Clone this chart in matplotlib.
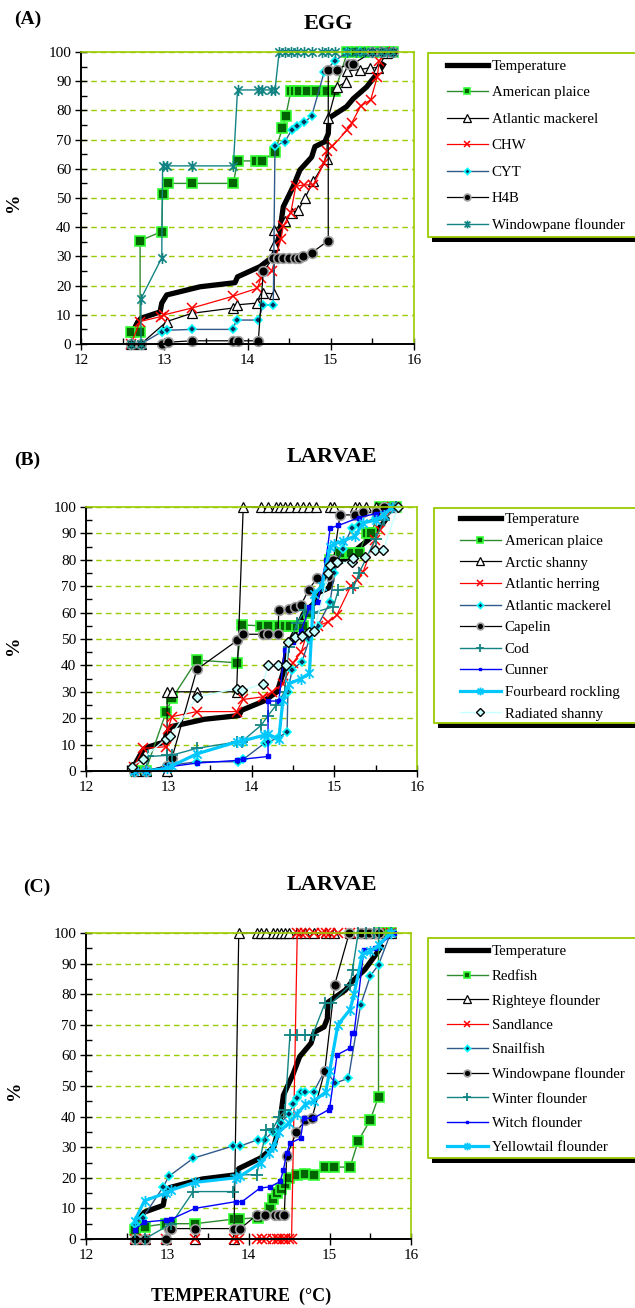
import numpy as np
import matplotlib.pyplot as plt
from matplotlib.patches import Rectangle
from matplotlib.path import Path

plt.rcParams['font.family'] = ['Liberation Serif', 'DejaVu Serif']

# ---- temperature curve (cumulative %), same in the three panels
temp_t = [12.6, 12.68, 12.72, 12.95, 12.97, 13.03, 13.43, 13.85, 13.88, 14.15, 14.31, 14.38, 14.43, 14.55, 14.63,
          14.77, 14.81, 14.93, 14.97, 14.98, 15.19, 15.27, 15.43, 15.59, 15.63]
temp_p = [3, 7.5, 8.8, 11, 14, 16.8, 19.6, 21, 23, 26.5, 30, 37, 47, 54, 59.6,
          64, 67.6, 69.3, 72, 77.4, 81.3, 84, 88, 93.8, 95.6]

# ---- (A) EGG
a_plaice_t = [12.6, 12.71, 12.71, 12.97, 12.98, 13.04, 13.33, 13.83, 13.88, 14.1, 14.18, 14.33, 14.42, 14.46,
              14.52, 14.57, 14.62, 14.72, 14.82, 14.95, 15.05, 15.2, 15.3, 15.4, 15.5, 15.6, 15.7, 15.75]
a_plaice_p = [4, 4, 35.4, 38.5, 51.4, 55, 55, 55, 62.7, 62.7, 62.7, 65.9, 73.9, 78.1,
              86.5, 86.5, 86.5, 86.5, 86.5, 86.5, 86.5, 100, 100, 100, 100, 100, 100, 100]
a_mack_t = [12.6, 12.72, 13.03, 13.33, 13.82, 13.87, 14.11, 14.19, 14.32, 14.32, 14.32, 14.45, 14.53, 14.61, 14.69,
            14.79, 14.95, 14.97, 15.07, 15.18, 15.2, 15.35, 15.47, 15.57, 15.67]
a_mack_p = [0, 0, 7.7, 10.5, 12.3, 13.4, 14, 17.4, 17.2, 33.9, 39, 42, 44.9, 45.8, 50,
            55.7, 63.2, 77.4, 88, 89.6, 93.5, 94, 94.6, 94.6, 99.7]
a_chw_t = [12.6, 12.71, 12.96, 13.0, 13.33, 13.82, 14.12, 14.16, 14.29, 14.4, 14.43, 14.52, 14.58, 14.68, 14.79,
           14.92, 14.95, 15.02, 15.2, 15.25, 15.36, 15.48, 15.56, 15.58, 15.65]
a_chw_p = [0, 7.7, 9.4, 10, 12.3, 16.3, 19.1, 22.6, 24.9, 35.8, 40.4, 45, 54, 54.5, 54.5,
           62, 66, 67.7, 73.4, 75.6, 81.5, 83.6, 91.6, 96.8, 100]
a_cyt_t = [12.6, 12.72, 12.97, 13.03, 13.33, 13.82, 13.87, 14.13, 14.19, 14.31, 14.33, 14.45, 14.53, 14.6, 14.68,
           14.77, 14.92, 15.05, 15.2, 15.35, 15.5, 15.62, 15.75]
a_cyt_p = [0, 0, 4.2, 4.7, 5, 5, 8.2, 8.2, 13.4, 13.4, 67.8, 69.3, 73.3, 74.7, 75.9,
           78, 93, 97, 100, 100, 100, 100, 100]
a_h4b_t = [12.6, 12.72, 12.97, 13.04, 13.33, 13.82, 13.88, 14.13, 14.19, 14.31, 14.37, 14.43, 14.5, 14.57, 14.62,
           14.67, 14.77, 14.97, 14.97, 15.07, 15.22, 15.27, 15.5, 15.62, 15.75]
a_h4b_p = [0, 0, 0, 0.6, 1.1, 1.1, 1.1, 1.1, 24.9, 29.5, 29.5, 29.5, 29.5, 29.5, 29.5,
           30, 31.2, 35.4, 93.8, 94, 96, 96, 100, 100, 100]
a_wf_t = [12.6, 12.72, 12.72, 12.97, 12.98, 13.03, 13.33, 13.83, 13.88, 14.13, 14.18, 14.28, 14.33, 14.38, 14.45,
          14.52, 14.6, 14.68, 14.78, 14.9, 14.97, 15.05, 15.2, 15.3, 15.4, 15.5, 15.6, 15.68, 15.75]
a_wf_p = [0, 0, 15.5, 29.5, 61, 61, 61, 61, 87, 87, 87, 87, 87, 100, 100,
          100, 100, 100, 100, 100, 100, 100, 100, 100, 100, 100, 100, 100, 100]

# ---- (B) LARVAE
b_plaice_t = [12.6, 12.72, 12.97, 13.04, 13.34, 13.82, 13.89, 14.12, 14.2, 14.33, 14.4, 14.47, 14.55, 14.62, 14.7,
              14.95, 15.07, 15.2, 15.3, 15.39, 15.45, 15.55, 15.65, 15.75]
b_plaice_p = [0, 0, 22.5, 27.5, 42, 41, 55.3, 55, 55, 55, 55, 55, 55, 55, 60,
              80, 82.5, 82.5, 82.5, 90, 90, 100, 100, 100]
b_shanny_t = [12.6, 12.72, 12.98, 12.98, 13.04, 13.34, 13.82, 13.9, 14.12, 14.2, 14.3, 14.35, 14.4, 14.47, 14.55,
              14.62, 14.7, 14.78, 14.95, 15.0, 15.25, 15.3, 15.38, 15.5, 15.6, 15.7]
b_shanny_p = [0, 0, 0, 30, 30, 30, 30, 100, 100, 100, 100, 100, 100, 100, 100,
              100, 100, 100, 100, 100, 100, 100, 100, 100, 100, 100]
b_herring_t = [12.58, 12.69, 12.97, 12.99, 13.04, 13.34, 13.82, 13.9, 14.14, 14.25, 14.38, 14.5, 14.6, 14.65, 14.8,
               14.93, 15.03, 15.2, 15.27, 15.35, 15.49, 15.55, 15.7]
b_herring_p = [1.5, 8.6, 9.2, 16, 20.6, 22.5, 22.5, 27.1, 28.1, 30, 33, 41, 45, 50, 55,
               56.5, 59, 70, 72.3, 75.5, 87.5, 91.3, 100]
b_mack_t = [12.58, 12.72, 12.98, 13.34, 13.84, 13.9, 14.16, 14.2, 14.32, 14.43, 14.44, 14.49, 14.61, 14.7, 14.8,
            14.95, 15.0, 15.1, 15.21, 15.3, 15.5, 15.6, 15.75]
b_mack_p = [0, 0, 2, 3.5, 3.5, 4.4, 10.6, 11, 12.5, 14.9, 30, 38.3, 41.4, 50, 55,
            64, 75, 84, 92, 93, 96, 98, 100]
b_capelin_t = [12.58, 12.72, 12.98, 13.04, 13.34, 13.83, 13.9, 14.14, 14.2, 14.32, 14.33, 14.45, 14.52, 14.6, 14.69,
               14.79, 14.93, 14.99, 15.07, 15.25, 15.35, 15.5, 15.6, 15.75]
b_capelin_p = [0, 0, 2, 5, 38.5, 49.5, 51.8, 51.8, 52, 52, 61, 61.5, 62, 63, 68.6,
               73, 74, 80, 97, 97, 98, 98, 100, 100]
b_cod_t = [12.58, 12.72, 12.75, 12.98, 13.04, 13.34, 13.82, 13.88, 14.12, 14.2, 14.3, 14.4, 14.45, 14.55, 14.65,
           14.75, 14.99, 15.05, 15.23, 15.3, 15.5, 15.6, 15.75]
b_cod_p = [0, 0, 5.5, 5.9, 6, 8.6, 11, 11.1, 17.4, 21, 25, 30, 47, 56, 61,
           60, 62.2, 68.6, 69.3, 75, 88, 95, 100]
b_cunner_t = [12.58, 12.72, 12.98, 13.34, 13.82, 13.9, 14.2, 14.2, 14.33, 14.4, 14.5, 14.6, 14.7, 14.8, 14.9,
              14.95, 15.05, 15.3, 15.5, 15.75]
b_cunner_p = [0, 0, 1.5, 3, 4, 4.5, 5.5, 26.5, 26.5, 46, 49, 53, 62, 64, 80,
              92, 93, 96, 97.5, 100]
b_rockling_t = [12.58, 12.72, 12.98, 13.04, 13.34, 13.82, 13.9, 14.15, 14.2, 14.33, 14.38, 14.45, 14.6, 14.7, 14.75,
                14.85, 14.95, 15.0, 15.1, 15.25, 15.35, 15.5, 15.6, 15.7]
b_rockling_p = [0, 0, 1, 2, 6.5, 11, 11.5, 13.5, 14, 12, 27, 33, 35, 37, 67,
                70, 85, 86, 87, 89, 94, 95, 97, 100]
b_radiated_t = [12.55, 12.69, 12.97, 13.02, 13.34, 13.82, 13.88, 14.14, 14.2, 14.32, 14.42, 14.44, 14.53, 14.61,
                14.7, 14.76, 14.93, 14.95, 15.03, 15.21, 15.23, 15.37, 15.49, 15.59, 15.77]
b_radiated_p = [1.6, 4.7, 12.3, 13.1, 28, 31.2, 30.5, 33, 40.3, 40.3, 40.3, 48.8, 50.6, 51,
                52.5, 53.2, 75, 78, 79, 79, 80.5, 81, 83.6, 83.6, 100]

# ---- (C) LARVAE
c_redfish_t = [12.6, 12.72, 12.98, 13.04, 13.34, 13.82, 13.88, 14.12, 14.27, 14.3, 14.35, 14.4, 14.45, 14.5, 14.6,
               14.7, 14.8, 14.94, 15.05, 15.25, 15.35, 15.5, 15.6, 15.6, 15.7, 15.75]
c_redfish_p = [3, 4, 5, 5, 5, 6.5, 6.5, 7, 10, 13, 15, 16.5, 18, 20, 21,
               21.3, 21, 23.5, 23.5, 23.5, 32, 39, 46.5, 100, 100, 100]
c_righteye_t = [12.6, 12.72, 12.98, 13.34, 13.82, 13.88, 14.1, 14.15, 14.22, 14.3, 14.35, 14.4, 14.45, 14.5, 14.6,
                14.7, 14.8, 14.95, 15.05, 15.25, 15.4, 15.5, 15.6, 15.75]
c_righteye_p = [0, 0, 0, 0, 0, 100, 100, 100, 100, 100, 100, 100, 100, 100, 100,
                100, 100, 100, 100, 100, 100, 100, 100, 100]
c_sandlance_t = [12.6, 12.72, 12.98, 13.34, 13.82, 13.88, 14.1, 14.17, 14.22, 14.3, 14.35, 14.38, 14.42, 14.45,
                 14.5, 14.53, 14.6, 14.65, 14.7, 14.8, 14.9, 14.95, 15.0, 15.1, 15.25, 15.4, 15.5, 15.6, 15.75]
c_sandlance_p = [0, 0, 0, 0, 0, 0, 0, 0, 0, 0, 0, 0, 0, 0,
                 0, 0, 100, 100, 100, 100, 100, 100, 100, 100, 100, 100, 100, 100, 100]
c_snail_t = [12.6, 12.7, 12.95, 13.02, 13.32, 13.81, 13.9, 14.12, 14.2, 14.3, 14.4, 14.5, 14.55, 14.6, 14.65,
             14.7, 14.8, 14.94, 15.07, 15.23, 15.38, 15.5, 15.6, 15.75]
c_snail_p = [5, 7, 17, 20.5, 26.4, 30.4, 30.4, 32.5, 32.5, 35, 38, 41, 44, 46, 48,
             48, 48, 55, 51, 52.5, 76.5, 86, 89.6, 100]
c_window_t = [12.6, 12.72, 12.98, 13.02, 13.05, 13.34, 13.82, 13.9, 14.1, 14.2, 14.33, 14.38, 14.44, 14.47, 14.59,
              14.7, 14.78, 14.94, 15.06, 15.24, 15.38, 15.48, 15.57, 15.6]
c_window_p = [0, 0, 0, 3.4, 3.4, 3.4, 3.4, 3.4, 7.8, 7.8, 7.8, 7.8, 7.8, 27, 35,
              39, 39.4, 55, 83, 100, 100, 100, 100, 100]
c_winter_t = [12.6, 12.72, 13.05, 13.32, 13.81, 13.85, 14.1, 14.22, 14.3, 14.38, 14.45, 14.51, 14.6, 14.7, 14.79,
              14.94, 15.02, 15.25, 15.28, 15.35, 15.45, 15.55, 15.6, 15.75]
c_winter_p = [0, 0, 5, 15.5, 15.5, 21, 21, 35.6, 36, 40, 42, 66.7, 66.7, 66.7, 66.7,
              77, 77, 83, 88, 100, 100, 100, 100, 100]
c_witch_t = [12.6, 12.71, 12.99, 13.05, 13.34, 13.84, 13.92, 14.14, 14.27, 14.39, 14.43, 14.47, 14.51, 14.64, 14.68,
             14.8, 14.99, 15.0, 15.09, 15.25, 15.27, 15.3, 15.42, 15.56, 15.79]
c_witch_p = [3, 5.5, 6.2, 6.5, 10, 12.2, 12.2, 16.6, 17.1, 18.8, 22.6, 28, 31.3, 32.9, 39.5,
             39.5, 42.3, 43, 60.2, 62.4, 67.3, 67.3, 94.5, 95, 100]
c_yellow_t = [12.6, 12.72, 12.98, 13.05, 13.34, 13.84, 13.9, 14.15, 14.25, 14.3, 14.38, 14.5, 14.6, 14.7, 14.8,
              14.95, 15.0, 15.1, 15.25, 15.3, 15.4, 15.5, 15.6, 15.75]
c_yellow_p = [6, 12.5, 15, 16, 18.5, 20, 20.5, 25, 28, 30, 35, 38, 41, 44, 45,
              48, 55, 70, 75, 80, 93, 94, 96, 100]

# excel style "star" marker (x with a vertical bar)
STAR = Path([(0, -1), (0, 1), (-0.75, -0.75), (0.75, 0.75), (-0.75, 0.75), (0.75, -0.75)],
            [Path.MOVETO, Path.LINETO] * 3)

GREEN = '#99cc00'
styles = {
    'temp': dict(color='black', lw=3.8),
    'square': dict(color='#2e8b2e', lw=1, marker='s', ms=7, mfc='#006400', mec='#33ff33', mew=1.2),
    'tri': dict(color='black', lw=0.9, marker='^', ms=7.5, mfc='white', mec='black', mew=0.9),
    'cross': dict(color='red', lw=0.9, marker='x', ms=7, mec='red', mew=1.1),
    'diam': dict(color='#2f5a8a', lw=1, marker='D', ms=4.5, mfc='#0b2f5c', mec='#00ffff', mew=1.2),
    'circ': dict(color='black', lw=0.9, marker='o', ms=7, mfc='black', mec='#a0a0a0', mew=1.2),
    'star': dict(color='#138484', lw=1, marker=STAR, ms=8, mfc='none', mec='#138484', mew=1.2),
    'plus': dict(color='#138484', lw=1, marker='+', ms=9, mec='#138484', mew=1.3),
    'blue': dict(color='#0000ff', lw=1, marker='s', ms=2.8, mfc='#0000ff', mec='#0000ff'),
    'cyan': dict(color='#00c8ff', lw=2.3, marker=STAR, ms=8, mfc='none', mec='#00c8ff', mew=1.3),
    'pale': dict(color='#c8ffff', lw=1, marker='D', ms=5.5, mfc='#c8ffff', mec='black', mew=1),
}

W, H = 635, 1308
fig = plt.figure(figsize=(W / 100, H / 100), dpi=100)


def px_axes(l, r, t, b):
    return fig.add_axes([l / W, 1 - b / H, (r - l) / W, (b - t) / H])


def setup(ax):
    ax.set_xlim(12, 16)
    ax.set_ylim(0, 100)
    ax.set_xticks([12, 13, 14, 15, 16])
    ax.set_xticks(np.arange(12.5, 16, 0.5), minor=True)
    ax.set_yticks(range(0, 101, 10))
    ax.set_yticks(range(5, 100, 10), minor=True)
    ax.yaxis.grid(True, color=GREEN, ls=(0, (4, 3)), lw=1)
    ax.set_axisbelow(True)
    for s in ['left', 'bottom']:
        ax.spines[s].set_color('black')
        ax.spines[s].set_linewidth(1.4)
    for s in ['top', 'right']:
        ax.spines[s].set_color(GREEN)
        ax.spines[s].set_linewidth(1.2)
    ax.tick_params(which='major', direction='inout', length=8, width=1, labelsize=11)
    ax.tick_params(which='minor', direction='in', length=4, width=1)
    ax.tick_params(axis='y', pad=3)


def panel(ax, series, ylab_xy):
    setup(ax)
    handles = []
    for t, p, st, lab in series:
        ln, = ax.plot(t, p, label=lab, clip_on=False, **styles[st])
        handles.append(ln)
    ax.set_ylabel('%', fontsize=14, fontweight='bold')
    ax.yaxis.set_label_coords(*ylab_xy)
    return handles


def legend_box(ax, handles, x0, y0, y1, hx, ytop, spacing):
    fig.add_artist(Rectangle(((x0 + 4) / W, 1 - (y1 + 5) / H), (W + 20 - x0) / W, (y1 - y0) / H,
                             transform=fig.transFigure, fc='black', ec='none', zorder=-2))
    fig.add_artist(Rectangle((x0 / W, 1 - y1 / H), (W + 20 - x0) / W, (y1 - y0) / H,
                             transform=fig.transFigure, fc='white', ec=GREEN, lw=1.3, zorder=-1))
    ax.legend(handles=handles, loc='upper left', bbox_to_anchor=(hx / W, 1 - ytop / H),
              bbox_transform=fig.transFigure, frameon=False, borderpad=0, borderaxespad=0,
              handlelength=2.75, handletextpad=0.25, labelspacing=spacing, fontsize=10.7, markerscale=0.7)


# (A)
axA = px_axes(81, 414, 52, 344)
hA = panel(axA, [
    (temp_t, temp_p, 'temp', 'Temperature'),
    (a_plaice_t, a_plaice_p, 'square', 'American plaice'),
    (a_mack_t, a_mack_p, 'tri', 'Atlantic mackerel'),
    (a_chw_t, a_chw_p, 'cross', 'CHW'),
    (a_cyt_t, a_cyt_p, 'diam', 'CYT'),
    (a_h4b_t, a_h4b_p, 'circ', 'H4B'),
    (a_wf_t, a_wf_p, 'star', 'Windowpane flounder'),
], (-0.177, 0.486))
legend_box(axA, hA, 428, 53, 237, 447, 59.5, 0.88)

# (B)
axB = px_axes(86, 417, 507, 771)
hB = panel(axB, [
    (temp_t, temp_p, 'temp', 'Temperature'),
    (b_plaice_t, b_plaice_p, 'square', 'American plaice'),
    (b_shanny_t, b_shanny_p, 'tri', 'Arctic shanny'),
    (b_herring_t, b_herring_p, 'cross', 'Atlantic herring'),
    (b_mack_t, b_mack_p, 'diam', 'Atlantic mackerel'),
    (b_capelin_t, b_capelin_p, 'circ', 'Capelin'),
    (b_cod_t, b_cod_p, 'plus', 'Cod'),
    (b_cunner_t, b_cunner_p, 'blue', 'Cunner'),
    (b_rockling_t, b_rockling_p, 'cyan', 'Fourbeard rockling'),
    (b_radiated_t, b_radiated_p, 'pale', 'Radiated shanny'),
], (-0.193, 0.477))
legend_box(axB, hB, 434, 508, 723, 460, 513, 0.55)

# (C)
axC = px_axes(86, 411, 933, 1239)
hC = panel(axC, [
    (temp_t, temp_p, 'temp', 'Temperature'),
    (c_redfish_t, c_redfish_p, 'square', 'Redfish'),
    (c_righteye_t, c_righteye_p, 'tri', 'Righteye flounder'),
    (c_sandlance_t, c_sandlance_p, 'cross', 'Sandlance'),
    (c_snail_t, c_snail_p, 'diam', 'Snailfish'),
    (c_window_t, c_window_p, 'circ', 'Windowpane flounder'),
    (c_winter_t, c_winter_p, 'plus', 'Winter flounder'),
    (c_witch_t, c_witch_p, 'blue', 'Witch flounder'),
    (c_yellow_t, c_yellow_p, 'cyan', 'Yellowtail flounder'),
], (-0.194, 0.487))
legend_box(axC, hC, 428, 938, 1158, 447, 945, 0.74)

# titles and panel letters
fig.text(328 / W, 1 - 24 / H, 'EGG', ha='center', va='center', fontsize=16, fontweight='bold')
fig.text(332 / W, 1 - 457 / H, 'LARVAE', ha='center', va='center', fontsize=16, fontweight='bold')
fig.text(332 / W, 1 - 885 / H, 'LARVAE', ha='center', va='center', fontsize=16, fontweight='bold')
fig.text(28 / W, 1 - 19 / H, '(A)', ha='center', va='center', fontsize=14, fontweight='bold')
fig.text(27 / W, 1 - 460 / H, '(B)', ha='center', va='center', fontsize=14, fontweight='bold')
fig.text(37 / W, 1 - 887 / H, '(C)', ha='center', va='center', fontsize=14, fontweight='bold')
fig.text(241 / W, 1 - 1296 / H, 'TEMPERATURE  (°C)', ha='center', va='center', fontsize=13, fontweight='bold')

fig.savefig('out.png', dpi=100)
